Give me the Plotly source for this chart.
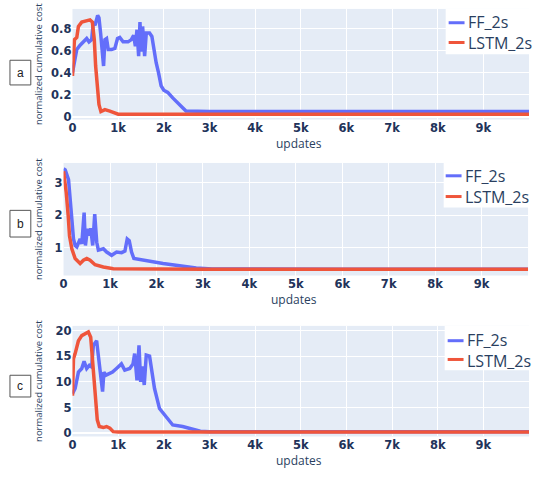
import plotly.graph_objects as go

W, H = 535, 479

# ---------------- data ----------------
a_ff_x = [0, 43, 94, 167, 239, 311, 362, 420, 457, 493, 551, 580, 616, 652, 681, 710, 746, 783, 855, 928, 986,
          1036, 1109, 1217, 1290, 1340, 1377, 1413, 1449, 1478, 1507, 1536, 1580, 1616, 1688, 1739, 1783, 1833,
          1884, 1942, 2000, 2087, 2196, 2304, 2413, 2486, 3000, 4000, 5000, 6000, 7000, 8000, 9000, 10000]
a_ff_y = [0.40, 0.49, 0.61, 0.65, 0.68, 0.71, 0.68, 0.70, 0.86, 0.83, 0.92, 0.90, 0.76, 0.59, 0.46, 0.70, 0.71,
          0.61, 0.61, 0.62, 0.71, 0.72, 0.68, 0.68, 0.70, 0.74, 0.64, 0.79, 0.55, 0.86, 0.59, 0.82, 0.55, 0.76,
          0.76, 0.73, 0.61, 0.49, 0.40, 0.28, 0.24, 0.22, 0.17, 0.13, 0.08, 0.05, 0.045, 0.045, 0.045, 0.045,
          0.045, 0.045, 0.045, 0.045]
a_lstm_x = [0, 43, 94, 130, 203, 311, 384, 435, 478, 507, 550, 580, 623, 710, 819, 928, 1000, 2000, 3000,
            4000, 5000, 6000, 7000, 8000, 9000, 10000]
a_lstm_y = [0.37, 0.70, 0.72, 0.82, 0.86, 0.87, 0.88, 0.86, 0.70, 0.46, 0.22, 0.11, 0.045, 0.063, 0.05, 0.033,
            0.022, 0.02, 0.02, 0.02, 0.02, 0.02, 0.02, 0.02, 0.02, 0.02]

b_ff_x = [0, 36, 107, 143, 178, 214, 250, 285, 357, 393, 443, 471, 514, 557, 585, 628, 671, 714, 750, 857, 928,
          1035, 1142, 1250, 1321, 1371, 1414, 1464, 1514, 1642, 1857, 2142, 2499, 2856, 3200, 4000, 5000, 6000,
          7000, 8000, 9000, 10000]
b_ff_y = [3.42, 3.39, 3.09, 2.48, 1.68, 1.27, 1.07, 1.03, 1.27, 1.12, 2.08, 1.07, 1.58, 1.38, 1.60, 1.07, 2.03,
          1.17, 0.93, 0.97, 0.87, 0.77, 0.87, 0.85, 0.90, 1.27, 1.22, 0.87, 0.67, 0.64, 0.57, 0.52, 0.45, 0.38,
          0.35, 0.34, 0.34, 0.34, 0.34, 0.34, 0.34, 0.34]
b_lstm_x = [0, 57, 100, 128, 178, 250, 357, 428, 500, 571, 678, 857, 1071, 2000, 3000, 4000, 5000, 6000, 7000,
            8000, 9000, 10000]
b_lstm_y = [3.35, 2.70, 1.98, 1.37, 0.97, 0.67, 0.52, 0.62, 0.67, 0.62, 0.48, 0.41, 0.36, 0.34, 0.34, 0.34,
            0.34, 0.34, 0.34, 0.34, 0.34, 0.34]

c_ff_x = [0, 58, 130, 203, 254, 312, 370, 420, 457, 529, 565, 601, 659, 688, 732, 804, 877, 964, 1072, 1145,
          1254, 1326, 1362, 1413, 1457, 1493, 1529, 1572, 1616, 1688, 1725, 1797, 1906, 2051, 2196, 2413, 2703,
          2800, 3000, 4000, 5000, 6000, 7000, 8000, 9000, 10000]
c_ff_y = [7.7, 8.7, 11.9, 12.6, 14.0, 12.6, 13.2, 12.9, 17.1, 18.0, 15.2, 11.9, 8.1, 11.9, 11.3, 11.6, 11.9,
          12.6, 13.5, 12.3, 12.6, 13.5, 15.5, 10.3, 17.1, 10.0, 13.0, 9.4, 15.2, 15.0, 12.6, 8.7, 4.8, 3.2, 1.6,
          1.3, 0.65, 0.4, 0.3, 0.3, 0.3, 0.3, 0.3, 0.3, 0.3, 0.3]
c_lstm_x = [0, 22, 58, 94, 130, 203, 275, 348, 399, 442, 471, 507, 543, 587, 674, 746, 819, 891, 1000, 2000,
            3000, 4000, 5000, 6000, 7000, 8000, 9000, 10000]
c_lstm_y = [7.3, 14.5, 15.5, 17.1, 18.0, 19.0, 19.3, 19.7, 18.7, 13.9, 8.7, 4.8, 2.6, 1.3, 1.1, 1.3, 1.0, 0.3,
            0.25, 0.25, 0.25, 0.25, 0.25, 0.25, 0.25, 0.25, 0.25, 0.25]

series_names = ["FF_2s", "LSTM_2s"]
panel_labels = ["a", "b", "c"]
x_tickvals = [0, 1000, 2000, 3000, 4000, 5000, 6000, 7000, 8000, 9000]
x_ticktext = ["0", "1k", "2k", "3k", "4k", "5k", "6k", "7k", "8k", "9k"]
a_yticks = [0, 0.2, 0.4, 0.6, 0.8]
b_yticks = [1, 2, 3]
c_yticks = [0, 5, 10, 15, 20]

# ---------------- styling / layout ----------------
BLUE, RED = "#636efa", "#EF553B"
INK = "#2a3f5f"

def px2fx(px):
    return px / W

def py2fy(py):
    return 1 - py / H

panels = [
    ((69, 529), (7, 119), [-0.027, 0.98], a_yticks, (a_ff_x, a_ff_y, a_lstm_x, a_lstm_y)),
    ((60, 528), (163, 277), [0.15, 3.6], b_yticks, (b_ff_x, b_ff_y, b_lstm_x, b_lstm_y)),
    ((69, 529), (328, 440), [-0.64, 20.9], c_yticks, (c_ff_x, c_ff_y, c_lstm_x, c_lstm_y)),
]

fig = go.Figure()
layout = dict(width=W, height=H, margin=dict(l=0, r=0, t=0, b=0), showlegend=False,
              paper_bgcolor="white", plot_bgcolor="#E5ECF6",
              font=dict(family="Open Sans", color=INK))
annotations, shapes = [], []

tickfont = dict(family="DejaVu Sans", size=11.5, color="#22335a", weight="bold")

for i, (xd, yd, yr, yt, data) in enumerate(panels):
    n = "" if i == 0 else str(i + 1)
    fx, fy, lx, ly = data
    fig.add_trace(go.Scatter(x=fx, y=fy, mode="lines", name=series_names[0],
                             line=dict(color=BLUE, width=3.5), xaxis="x" + n, yaxis="y" + n))
    fig.add_trace(go.Scatter(x=lx, y=ly, mode="lines", name=series_names[1],
                             line=dict(color=RED, width=3.5), xaxis="x" + n, yaxis="y" + n))
    layout["xaxis" + n] = dict(domain=[px2fx(xd[0]), px2fx(xd[1])], anchor="y" + n, range=[0, 10000],
                               tickvals=x_tickvals, ticktext=x_ticktext, tickfont=tickfont,
                               gridcolor="white", zeroline=False, showline=False, ticks="")
    layout["yaxis" + n] = dict(domain=[py2fy(yd[1]), py2fy(yd[0])], anchor="x" + n, range=yr,
                               tickvals=yt, tickfont=tickfont, gridcolor="white",
                               zeroline=True, zerolinecolor="white", zerolinewidth=2, ticks="")
    annotations.append(dict(text="updates", xref="paper", yref="paper",
                            x=px2fx((xd[0] + xd[1]) / 2 - 2), y=py2fy(yd[1] + 24),
                            xanchor="center", yanchor="middle", showarrow=False,
                            font=dict(size=12, color=INK)))
    annotations.append(dict(text="normalized cumulative cost", xref="paper", yref="paper",
                            x=px2fx(34), y=py2fy((yd[0] + yd[1]) / 2), textangle=-90,
                            xanchor="center", yanchor="middle", showarrow=False,
                            font=dict(size=9.5, color=INK)))

# panel label boxes
label_boxes = [(6, 59, 27, 84), (6, 211, 27, 238), (6, 378, 27, 400)]
for lab, (x0, y0, x1, y1) in zip(panel_labels, label_boxes):
    shapes.append(dict(type="rect", xref="paper", yref="paper", x0=px2fx(x0), x1=px2fx(x1),
                       y0=py2fy(y1), y1=py2fy(y0), line=dict(color="#555555", width=1),
                       fillcolor="white"))
    annotations.append(dict(text=lab, xref="paper", yref="paper", x=px2fx((x0 + x1) / 2),
                            y=py2fy((y0 + y1) / 2), xanchor="center", yanchor="middle",
                            showarrow=False, font=dict(family="Liberation Sans", size=12, color="#222222")))

# legends (one per panel): box, sample lines, and one two-line text block
legend_boxes = [(445, 7, 53, 21, 41, 448), (443, 163, 208, 176, 197, 445), (444, 328, 373, 343, 362, 447)]
for (bx, by0, by1, r1, r2, lx0) in legend_boxes:
    shapes.append(dict(type="rect", xref="paper", yref="paper", x0=px2fx(bx), x1=px2fx(536),
                       y0=py2fy(by1), y1=py2fy(by0), line=dict(width=0), fillcolor="white", layer="above"))
    for row, col in [(r1, BLUE), (r2, RED)]:
        shapes.append(dict(type="line", xref="paper", yref="paper", x0=px2fx(lx0), x1=px2fx(lx0 + 16),
                           y0=py2fy(row), y1=py2fy(row), line=dict(color=col, width=3), layer="above"))
    annotations.append(dict(text="<br>".join(series_names), xref="paper", yref="paper",
                            x=px2fx(lx0 + 17), y=py2fy((r1 + r2) / 2), align="left",
                            xanchor="left", yanchor="middle", showarrow=False,
                            font=dict(size=16, color=INK)))

layout["annotations"] = annotations
layout["shapes"] = shapes
fig.update_layout(**layout)
fig.write_html("out.html")
